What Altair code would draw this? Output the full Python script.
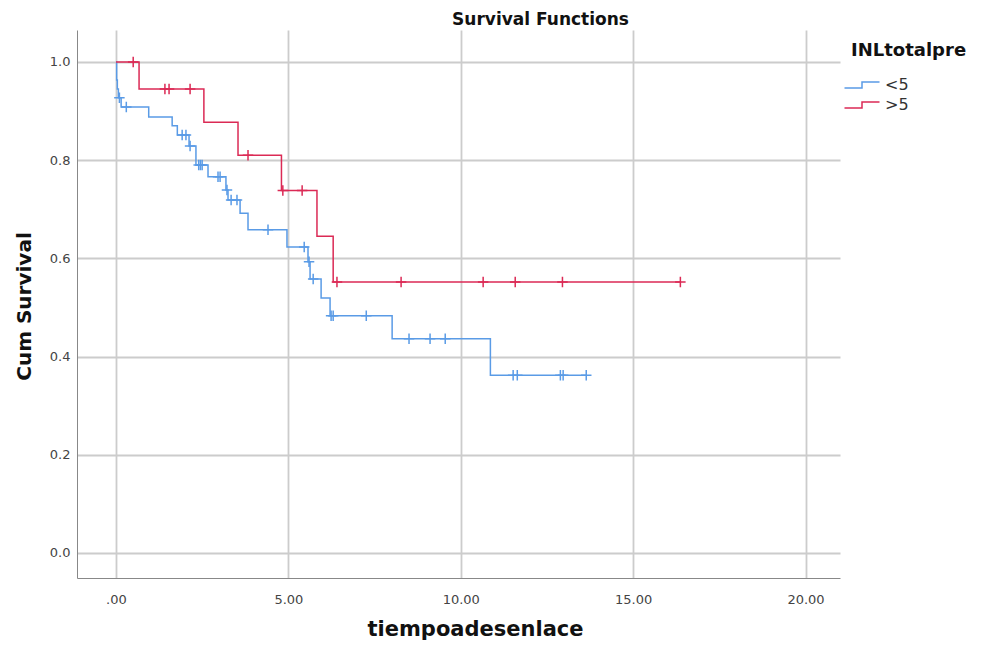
import altair as alt
import pandas as pd

# ---- data ----
groups = ["<5", ">5"]

blue_event_t = [0.02, 0.04, 0.07, 0.15, 0.95, 1.63, 1.78, 2.12, 2.32, 2.67, 3.19, 3.25,
                3.60, 3.83, 4.96, 5.57, 5.63, 5.95, 6.21, 8.01, 10.86]
blue_event_s = [0.963, 0.945, 0.927, 0.908, 0.888, 0.870, 0.851, 0.829, 0.790, 0.766, 0.739, 0.719,
                0.692, 0.658, 0.623, 0.593, 0.558, 0.519, 0.483, 0.436, 0.362]
blue_censor_t = [0.10, 0.30, 1.92, 2.03, 2.15, 2.40, 2.45, 2.50, 2.96, 3.02, 3.22, 3.34, 3.51,
                 4.41, 5.46, 5.60, 5.72, 6.24, 6.30, 7.26, 8.50, 9.11, 9.55, 11.52, 11.64,
                 12.89, 12.97, 13.64]

red_event_t = [0.67, 2.55, 3.54, 4.80, 5.83, 6.30]
red_event_s = [0.945, 0.877, 0.810, 0.738, 0.645, 0.552]
red_censor_t = [0.50, 1.42, 1.54, 2.15, 3.83, 4.84, 5.40, 6.41, 8.27, 10.65, 11.58, 12.95, 16.37]

x_ticks = [0, 5, 10, 15, 20]
y_ticks = [0.0, 0.2, 0.4, 0.6, 0.8, 1.0]

colors = ["#5a9be6", "#db2a55"]


def surv_at(t, ev_t, ev_s):
    s = 1.0
    for et, es in zip(ev_t, ev_s):
        if t >= et:
            s = es
    return s


line_rows, cens_rows = [], []
for g, ev_t, ev_s, ce_t in [("<5", blue_event_t, blue_event_s, blue_censor_t),
                            (">5", red_event_t, red_event_s, red_censor_t)]:
    line_rows.append({"g": g, "t": 0.0, "s": 1.0, "o": 0})
    for i, (et, es) in enumerate(zip(ev_t, ev_s)):
        line_rows.append({"g": g, "t": et, "s": es, "o": i + 1})
    end_t = max(ce_t[-1], ev_t[-1])
    line_rows.append({"g": g, "t": end_t, "s": surv_at(end_t, ev_t, ev_s), "o": len(ev_t) + 1})
    for ct in ce_t:
        cens_rows.append({"g": g, "t": ct, "s": surv_at(ct, ev_t, ev_s)})

line_df = pd.DataFrame(line_rows)
cens_df = pd.DataFrame(cens_rows)

FONT = "DejaVu Sans"

xs = alt.Scale(domain=[-1.13, 21.0], nice=False, zero=False)
ys = alt.Scale(domain=[-0.051, 1.065], nice=False, zero=False)
cs = alt.Scale(domain=groups, range=colors)

x_axis = alt.Axis(values=x_ticks, title="tiempoadesenlace",
                  labelExpr="datum.value == 0 ? '.00' : format(datum.value, '.2f')",
                  ticks=False, labelPadding=15, labelFontSize=13, labelColor="#444444",
                  titleFontSize=21, titleFontWeight="bold", titleColor="#111111",
                  titlePadding=12, titleX=398, titleAnchor="middle",
                  domainColor="#888888", gridColor="#cccccc", gridWidth=1.8)
y_axis = alt.Axis(values=y_ticks, title="Cum Survival", format=".1f",
                  ticks=False, labelPadding=7, labelFontSize=13, labelColor="#444444",
                  titleFontSize=20, titleFontWeight="bold", titleColor="#111111",
                  titlePadding=15, titleY=276,
                  domainColor="#888888", gridColor="#cccccc", gridWidth=1.8)

lines = alt.Chart(line_df).mark_line(interpolate="step-after", strokeWidth=1.5).encode(
    x=alt.X("t:Q", scale=xs, axis=x_axis),
    y=alt.Y("s:Q", scale=ys, axis=y_axis),
    color=alt.Color("g:N", scale=cs, sort=groups,
                    legend=alt.Legend(title="INLtotalpre", orient="none", legendX=774, legendY=12,
                                      symbolType="M-1.75,0.3H0V-0.3H1.75", symbolSize=400,
                                      symbolStrokeWidth=1.5, symbolFillColor="transparent",
                                      titleFontSize=18, titleFontWeight="bold", titleColor="#111111",
                                      titlePadding=14, labelFontSize=16, labelColor="#333333",
                                      labelOffset=12, rowPadding=1)),
    order="o:Q",
    detail="g:N",
)

cens = alt.Chart(cens_df).mark_point(shape="M-1,0H1M0,-1V1", size=110, filled=False,
                                     strokeWidth=1.5, opacity=1).encode(
    x=alt.X("t:Q", scale=xs),
    y=alt.Y("s:Q", scale=ys),
    color=alt.Color("g:N", scale=cs, legend=None),
)

chart = alt.layer(lines, cens).properties(
    width=763, height=548,
    autosize=alt.AutoSizeParams(type="none"),
    padding={"left": 69, "top": 22, "right": 137, "bottom": 65},
    title=alt.TitleParams("Survival Functions", fontSize=17, fontWeight="bold", color="#111111",
                          anchor="middle", dx=82, offset=1, font=FONT),
).configure(font=FONT).configure_view(stroke=None)

chart.save("out.html", embed_options={"renderer": "svg", "actions": False})
